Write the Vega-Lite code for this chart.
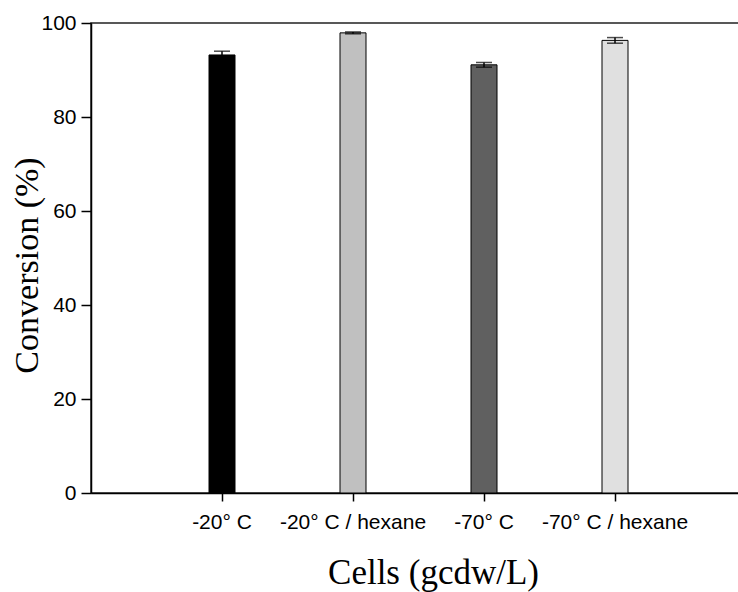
{
  "$schema": "https://vega.github.io/schema/vega-lite/v6.json",
  "width": 655,
  "height": 470,
  "autosize": "none",
  "padding": {"left": 91, "top": 23, "right": 0, "bottom": 99},
  "background": "white",
  "config": {
    "view": {"stroke": "#222222", "strokeWidth": 1.5},
    "axis": {
      "domainColor": "black",
      "domainWidth": 1.5,
      "tickColor": "black",
      "tickWidth": 1.5,
      "grid": false,
      "labelFont": "Liberation Sans",
      "labelFontSize": 21,
      "labelColor": "black",
      "titleFont": "Liberation Serif",
      "titleFontSize": 34,
      "titleFontWeight": "normal",
      "titleColor": "black"
    }
  },
  "data": {
    "values": [
      {"cells": "-20° C", "conversion": 93.2, "sd": 0.8},
      {"cells": "-20° C / hexane", "conversion": 97.9, "sd": 0.2},
      {"cells": "-70° C", "conversion": 91.1, "sd": 0.5},
      {"cells": "-70° C / hexane", "conversion": 96.3, "sd": 0.6}
    ]
  },
  "encoding": {
    "x": {
      "field": "cells",
      "type": "nominal",
      "sort": null,
      "scale": {"type": "band", "paddingInner": 0, "paddingOuter": 0.5},
      "axis": {
        "title": "Cells (gcdw/L)",
        "labelAngle": 0,
        "tickSize": 8,
        "labelPadding": 10,
        "titleX": 342,
        "titleY": 90,
        "titleFontSize": 35,
        "titleBaseline": "alphabetic"
      }
    }
  },
  "layer": [
    {
      "mark": {"type": "bar", "width": 26, "stroke": "black", "strokeWidth": 1},
      "encoding": {
        "y": {
          "field": "conversion",
          "type": "quantitative",
          "scale": {"domain": [0, 100], "nice": false},
          "axis": {
            "title": "Conversion (%)",
            "values": [0, 20, 40, 60, 80, 100],
            "tickSize": 10,
            "labelPadding": 5,
            "titleX": -54,
            "titleY": 242,
            "titleBaseline": "alphabetic"
          }
        },
        "color": {
          "field": "cells",
          "type": "nominal",
          "sort": null,
          "scale": {
            "domain": ["-20° C", "-20° C / hexane", "-70° C", "-70° C / hexane"],
            "range": ["#000000", "#c0c0c0", "#606060", "#e0e0e0"]
          },
          "legend": null
        }
      }
    },
    {
      "mark": {"type": "errorbar", "color": "black", "thickness": 1.5, "ticks": {"size": 16, "thickness": 1.5, "color": "black"}},
      "encoding": {
        "y": {"field": "conversion", "type": "quantitative", "title": "Conversion (%)"},
        "yError": {"field": "sd"}
      }
    }
  ]
}
